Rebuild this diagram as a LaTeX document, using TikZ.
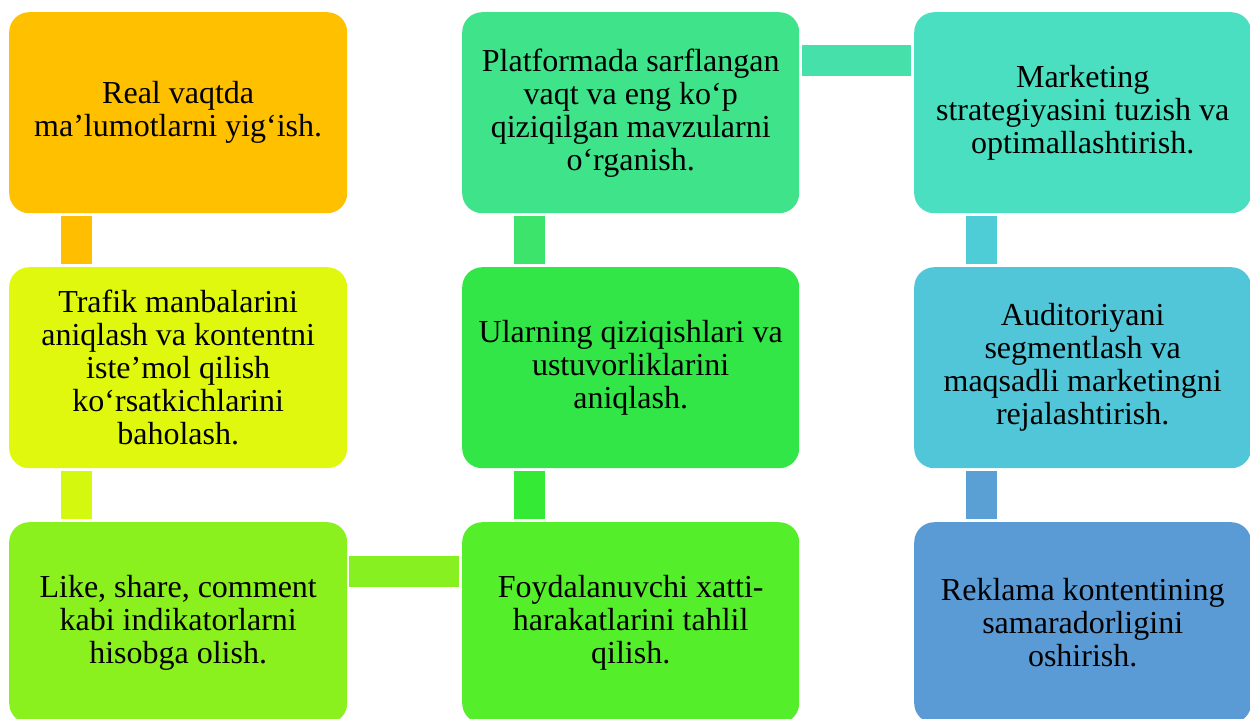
\documentclass[tikz,border=0pt]{standalone}
\usepackage{fontspec}
\setmainfont{Liberation Serif}
\definecolor{cA}{RGB}{255,192,0}
\definecolor{cB}{RGB}{224,248,14}
\definecolor{cC}{RGB}{138,240,30}
\definecolor{cD}{RGB}{85,238,42}
\definecolor{cE}{RGB}{50,230,72}
\definecolor{cF}{RGB}{62,227,138}
\definecolor{cG}{RGB}{74,223,192}
\definecolor{cH}{RGB}{80,198,216}
\definecolor{cI}{RGB}{91,155,213}
\definecolor{kA}{RGB}{255,190,0}
\definecolor{kB}{RGB}{212,248,14}
\definecolor{kC}{RGB}{134,240,32}
\definecolor{kD}{RGB}{52,234,52}
\definecolor{kE}{RGB}{60,228,108}
\definecolor{kF}{RGB}{70,224,170}
\definecolor{kG}{RGB}{78,205,214}
\definecolor{kH}{RGB}{90,160,212}
\tikzset{
  box/.style={rectangle, rounded corners=20pt, minimum width=338pt, minimum height=201pt,
    anchor=north west, inner sep=0pt, align=center, text=black,
    font=\fontsize{32}{33}\selectfont},
  conn/.style={line width=31pt, draw=#1}
}
\begin{document}
\begin{tikzpicture}[x=1pt,y=-1pt]
\useasboundingbox (0,0) rectangle (1250,718);
% left column
\node[box, fill=cA] (a) at (9,12) {Real vaqtda\\ma’lumotlarni yig‘ish.};
\node[box, fill=cB] (b) at (9,267) {Trafik manbalarini\\aniqlash va kontentni\\iste’mol qilish\\ko‘rsatkichlarini\\baholash.};
\node[box, fill=cC] (c) at (9,522) {Like, share, comment\\kabi indikatorlarni\\hisobga olish.};
% middle column
\node[box, fill=cD, minimum width=337pt] (d) at (462,522) {Foydalanuvchi xatti-\\harakatlarini tahlil\\qilish.};
\node[box, fill=cE, minimum width=337pt] (e) at (462,267) {Ularning qiziqishlari va\\ustuvorliklarini\\aniqlash.};
\node[box, fill=cF, minimum width=337pt] (f) at (462,12) {Platformada sarflangan\\vaqt va eng ko‘p\\qiziqilgan mavzularni\\o‘rganish.};
% right column
\node[box, fill=cG, minimum width=337pt] (g) at (914,12) {Marketing\\strategiyasini tuzish va\\optimallashtirish.};
\node[box, fill=cH, minimum width=337pt] (h) at (914,267) {Auditoriyani\\segmentlash va\\maqsadli marketingni\\rejalashtirish.};
\node[box, fill=cI, minimum width=337pt] (i) at (914,522) {Reklama kontentining\\samaradorligini\\oshirish.};
% connectors
\draw[conn=kA] ([xshift=67.5pt,yshift=-3pt]a.south west) -- ([xshift=67.5pt,yshift=3pt]b.north west);
\draw[conn=kB] ([xshift=67.5pt,yshift=-3pt]b.south west) -- ([xshift=67.5pt,yshift=3pt]c.north west);
\draw[conn=kC] ([xshift=2pt,yshift=-49.5pt]c.north east) -- ([xshift=-3pt,yshift=-49.5pt]d.north west);
\draw[conn=kD] ([xshift=67.5pt,yshift=3pt]d.north west) -- ([xshift=67.5pt,yshift=-3pt]e.south west);
\draw[conn=kE] ([xshift=67.5pt,yshift=3pt]e.north west) -- ([xshift=67.5pt,yshift=-3pt]f.south west);
\draw[conn=kF] ([xshift=3pt,yshift=-48.5pt]f.north east) -- ([xshift=-3pt,yshift=-48.5pt]g.north west);
\draw[conn=kG] ([xshift=67.5pt,yshift=-3pt]g.south west) -- ([xshift=67.5pt,yshift=3pt]h.north west);
\draw[conn=kH] ([xshift=67.5pt,yshift=-3pt]h.south west) -- ([xshift=67.5pt,yshift=3pt]i.north west);
\end{tikzpicture}
\end{document}
